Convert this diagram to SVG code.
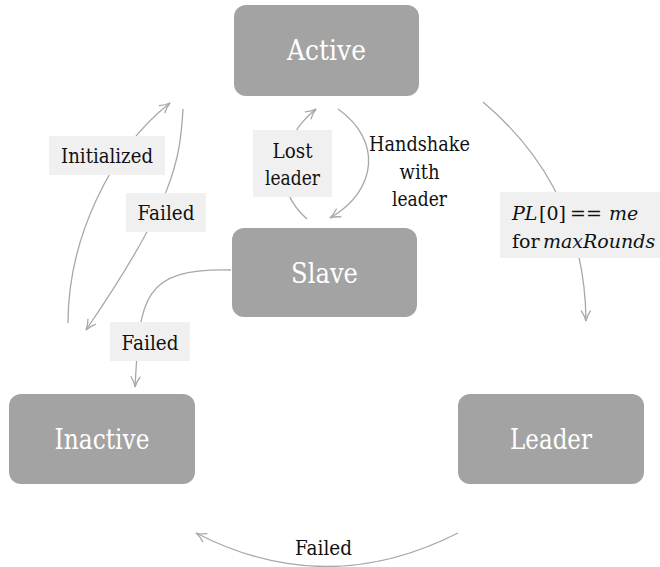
<svg xmlns="http://www.w3.org/2000/svg" width="660" height="567" viewBox="0 0 660 567">
<defs>
<marker id="arr" viewBox="0 0 12 12" refX="11" refY="6" markerWidth="12" markerHeight="12" markerUnits="userSpaceOnUse" orient="auto">
<path d="M1,1.5 Q6,5 11,6 Q6,7 1,10.5" fill="none" stroke="#a8a8a8" stroke-width="1.3" stroke-linecap="round"/>
</marker>
</defs>
<style>
.node rect{fill:#a3a3a3;}
.node text{fill:#ffffff;font-size:27px;text-anchor:middle;font-family:'DejaVu Serif',serif;}
.edge{fill:none;stroke:#a8a8a8;stroke-width:1.3;marker-end:url(#arr);}
.lbg{fill:#f0f0f0;}
.lbl{fill:#111111;font-size:20.5px;text-anchor:middle;font-family:'DejaVu Serif',serif;}
.st{text-anchor:start;font-size:19px;}
.it{font-style:italic;}
</style>
<g id="connectors">
<path class="edge" d="M68,323 C68,240 110,150 170,103"/>
<path class="edge" d="M183,109 C180,160 175,200 86,330"/>
<path class="edge" d="M231,270 C140,268 140,300 135,387"/>
<path class="edge" d="M307,219 C272,188 278,140 316,109"/>
<path class="edge" d="M338,109 C382,140 378,190 330,218"/>
<path class="edge" d="M483,102 C540,150 585,220 586,321"/>
<path class="edge" d="M458,533 Q326,600 196,533"/>
</g>
<g id="labels">
<rect class="lbg" x="49" y="136" width="116" height="39"/>
<text class="lbl" x="107" y="163" textLength="92" lengthAdjust="spacingAndGlyphs">Initialized</text>
<rect class="lbg" x="126" y="193" width="80" height="39"/>
<text class="lbl" x="166" y="220" textLength="57" lengthAdjust="spacingAndGlyphs">Failed</text>
<rect class="lbg" x="110" y="322" width="80" height="39"/>
<text class="lbl" x="150" y="350" textLength="57" lengthAdjust="spacingAndGlyphs">Failed</text>
<rect class="lbg" x="253" y="130" width="79" height="67"/>
<text class="lbl" x="292.5" y="158" textLength="40" lengthAdjust="spacingAndGlyphs">Lost</text>
<text class="lbl" x="292.5" y="185" textLength="55" lengthAdjust="spacingAndGlyphs">leader</text>
<text class="lbl" x="419.5" y="151" textLength="101" lengthAdjust="spacingAndGlyphs">Handshake</text>
<text class="lbl" x="419.5" y="179" textLength="40" lengthAdjust="spacingAndGlyphs">with</text>
<text class="lbl" x="419.5" y="206" textLength="55" lengthAdjust="spacingAndGlyphs">leader</text>
<rect class="lbg" x="500" y="192" width="160" height="66"/>
<text class="lbl st it" x="512" y="220">PL</text>
<text class="lbl st" x="539" y="220">[0]</text>
<text class="lbl st" x="570" y="220">==</text>
<text class="lbl st it" x="609" y="220">me</text>
<text class="lbl st" x="512" y="248">for</text>
<text class="lbl st it" x="543" y="248">maxRounds</text>
<text class="lbl" x="323.5" y="555" textLength="57" lengthAdjust="spacingAndGlyphs">Failed</text>
</g>
<g id="node-active" class="node">
<rect x="234" y="5" width="185" height="91" rx="12"/>
<text x="326.5" y="60" textLength="79" lengthAdjust="spacingAndGlyphs">Active</text>
</g>
<g id="node-slave" class="node">
<rect x="232" y="228" width="185" height="89" rx="12"/>
<text x="324.5" y="283" textLength="67" lengthAdjust="spacingAndGlyphs">Slave</text>
</g>
<g id="node-inactive" class="node">
<rect x="9" y="394" width="186" height="90" rx="12"/>
<text x="102" y="449" textLength="95" lengthAdjust="spacingAndGlyphs">Inactive</text>
</g>
<g id="node-leader" class="node">
<rect x="458" y="394" width="186" height="90" rx="12"/>
<text x="551" y="449" textLength="82" lengthAdjust="spacingAndGlyphs">Leader</text>
</g>
</svg>
